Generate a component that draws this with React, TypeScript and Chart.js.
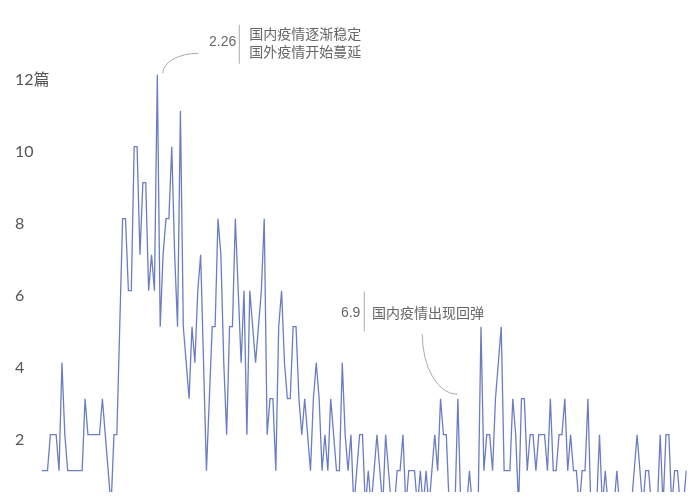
import { useEffect, useRef } from "react";
import Chart from "chart.js/auto";
import type { ChartConfiguration, Plugin } from "chart.js/auto";

// daily article count, starting 2020-01-17
const startDate = new Date(2020, 0, 17);
const articleCounts = [
  1, 1, 1, 2, 2, 2, 1, 4, 2, 1,
  1, 1, 1, 1, 1, 3, 2, 2, 2, 2,
  2, 3, 2, 1, 0, 2, 2, 5, 8, 8,
  6, 6, 10, 10, 7, 9, 9, 6, 7, 6,
  12, 5, 7, 8, 8, 10, 7, 5, 11, 5,
  4, 3, 5, 4, 6, 7, 4, 1, 3, 5,
  5, 8, 7, 4, 2, 5, 5, 8, 6, 4,
  6, 2, 6, 5, 4, 5, 6, 8, 2, 3,
  3, 1, 5, 6, 4, 3, 3, 5, 5, 3,
  2, 3, 2, 1, 3, 4, 3, 1, 2, 1,
  3, 2, 1, 1, 4, 2, 1, 2, 0, 1,
  2, 2, 0, 1, 0, 1, 2, 1, 0, 2,
  1, 0, 0, 1, 1, 2, 0, 1, 1, 1,
  0, 1, 0, 1, 0, 1, 2, 1, 3, 2,
  2, 0, 0, 0, 3, 0, 0, 0, 1, 0,
  0, 0, 5, 1, 2, 2, 1, 3, 4, 5,
  1, 1, 1, 3, 2, 0, 3, 3, 1, 2,
  2, 1, 2, 2, 2, 1, 3, 1, 1, 2,
  2, 3, 1, 2, 1, 1, 0, 1, 1, 3,
  0, 0, 0, 2, 0, 1, 0, 0, 0, 1,
  0, 0, 0, 0, 0, 1, 2, 1, 0, 1,
  1, 0, 0, 0, 2, 0, 2, 2, 0, 1,
  1, 0, 0, 1,
];
const dateLabels = articleCounts.map((_, i) => {
  const d = new Date(startDate);
  d.setDate(d.getDate() + i);
  return `${d.getMonth() + 1}.${d.getDate()}`;
});
const yTickValues = [0, 2, 4, 6, 8, 10, 12];
const yUnit = "篇";

const notes = [
  { date: "2.26", lines: ["国内疫情逐渐稳定", "国外疫情开始蔓延"] },
  { date: "6.9", lines: ["国内疫情出现回弹"] },
];

const overlayPlugin: Plugin<"line"> = {
  id: "overlay",
  afterDraw(chart) {
    const { ctx, scales } = chart;
    const x = scales.x;
    const y = scales.y;
    ctx.save();

    // y tick labels
    ctx.font = '16px Lato, "Noto Sans CJK SC"';
    ctx.fillStyle = "#555";
    ctx.textAlign = "left";
    ctx.textBaseline = "middle";
    yTickValues.forEach((v) => {
      const label = v === 12 ? `${v}${yUnit}` : String(v);
      ctx.fillText(label, 7, y.getPixelForValue(v) + 5);
    });

    const textFont = '14px "Liberation Sans", "Noto Sans CJK SC"';
    const cjkFont = '14px "Noto Sans CJK SC"';

    // note 1: 2.26
    {
      const i = dateLabels.indexOf(notes[0].date);
      const px = x.getPixelForValue(i);
      const py = y.getPixelForValue(articleCounts[i]);
      ctx.strokeStyle = "#aaa";
      ctx.lineWidth = 1;
      ctx.beginPath();
      ctx.ellipse(px + 41, py - 1.4, 35.6, 20, 0, Math.PI, 1.5 * Math.PI);
      ctx.stroke();
      ctx.beginPath();
      ctx.moveTo(px + 82, py - 50);
      ctx.lineTo(px + 82, py - 11);
      ctx.stroke();
      ctx.fillStyle = "#666";
      ctx.font = textFont;
      ctx.textAlign = "right";
      ctx.fillText(notes[0].date, px + 79, py - 33);
      ctx.font = cjkFont;
      ctx.textAlign = "left";
      ctx.fillText(notes[0].lines[0], px + 92, py - 41);
      ctx.fillText(notes[0].lines[1], px + 92, py - 23);
    }

    // note 2: 6.9
    {
      const i = dateLabels.indexOf(notes[1].date);
      const px = x.getPixelForValue(i);
      const py = y.getPixelForValue(articleCounts[i]);
      ctx.strokeStyle = "#aaa";
      ctx.lineWidth = 1;
      ctx.beginPath();
      ctx.ellipse(px - 0.6, py - 64.4, 35, 60, 0, 0.5 * Math.PI, Math.PI);
      ctx.stroke();
      ctx.beginPath();
      ctx.moveTo(px - 93.6, py - 107);
      ctx.lineTo(px - 93.6, py - 67.5);
      ctx.stroke();
      ctx.fillStyle = "#666";
      ctx.font = textFont;
      ctx.textAlign = "right";
      ctx.fillText(notes[1].date, px - 97.5, py - 86);
      ctx.font = cjkFont;
      ctx.textAlign = "left";
      ctx.fillText(notes[1].lines[0], px - 86, py - 86.5);
    }

    ctx.restore();
  },
};

const ArticleChart = () => {
  const canvasRef = useRef<HTMLCanvasElement | null>(null);

  useEffect(() => {
    document.body.style.overflow = "hidden";
    const ctx = canvasRef.current?.getContext("2d");
    if (!ctx) return;

    const config: ChartConfiguration<"line", number[], string> = {
      type: "line",
      data: {
        labels: dateLabels,
        datasets: [
          {
            data: articleCounts,
            borderColor: "#6a7dc2",
            borderWidth: 1.3,
            pointRadius: 0,
            tension: 0,
            fill: false,
          },
        ],
      },
      options: {
        animation: false,
        responsive: true,
        maintainAspectRatio: false,
        layout: { padding: { left: 33.7, right: 5.8, top: 0, bottom: 0 } },
        plugins: {
          legend: { display: false },
          tooltip: { enabled: false },
        },
        scales: {
          x: { display: false, offset: false },
          y: { display: false, min: 0.186, max: 13.853 },
        },
      },
      plugins: [overlayPlugin],
    };

    const chart = new Chart(ctx, config);
    return () => {
      chart.destroy();
    };
  }, []);

  return (
    <div style={{ position: "relative", height: 492, marginBottom: -8 }}>
      <canvas ref={canvasRef}></canvas>
    </div>
  );
};

export default function App() {
  return <ArticleChart />;
}
